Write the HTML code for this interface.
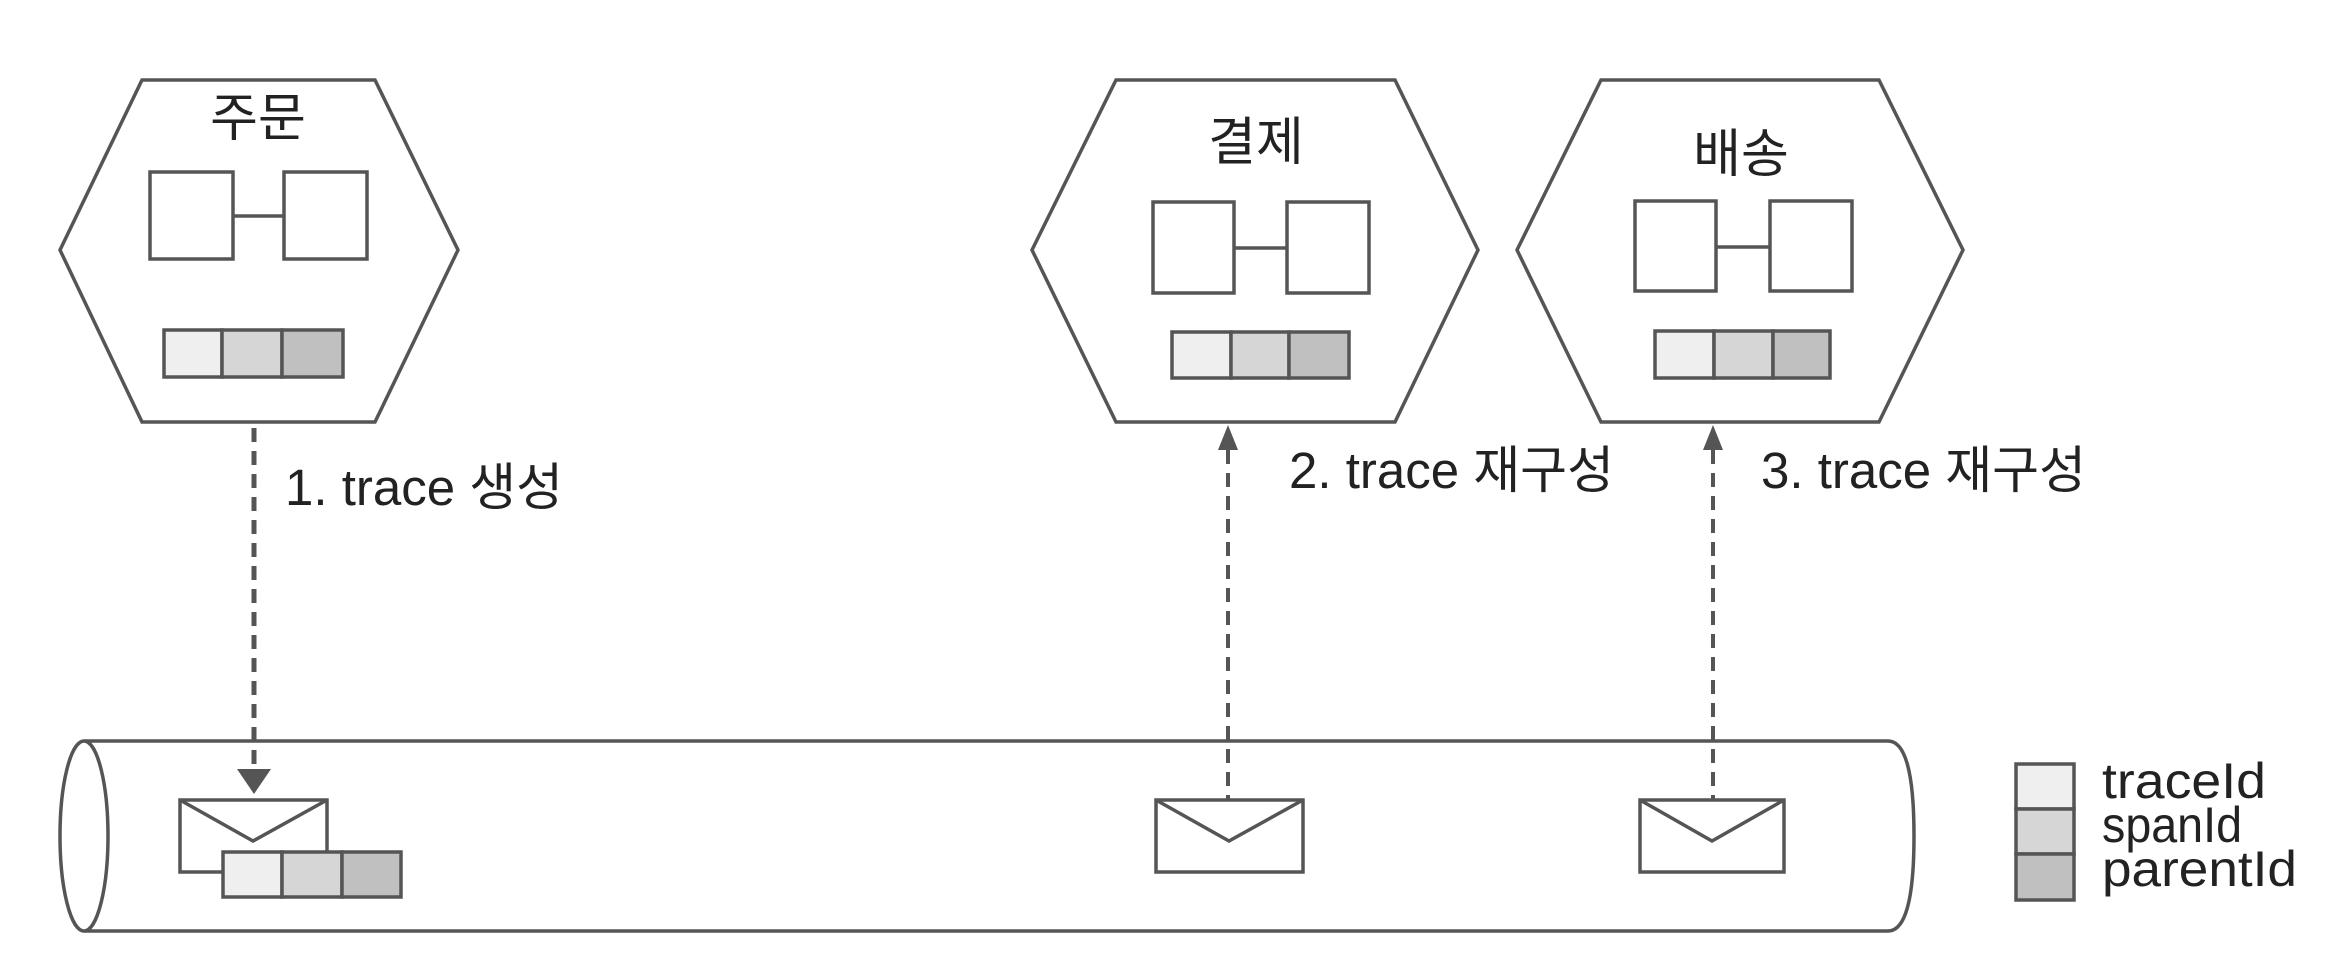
<!DOCTYPE html>
<html><head><meta charset="utf-8"><style>
html,body{margin:0;padding:0;background:#fff;}
svg{display:block;}
text{font-family:"Liberation Sans","Noto Sans CJK KR",sans-serif;fill:#222;}
</style></head><body>
<svg width="2352" height="968" viewBox="0 0 2352 968" xmlns="http://www.w3.org/2000/svg">
<g fill="none" stroke="#555" stroke-width="3.5">
<polygon points="60,250 142,80 375,80 458,250 375,422 142,422" fill="#fff"/>
<polygon points="1032,250 1116,80 1395,80 1478,250 1395,422 1116,422" fill="#fff"/>
<polygon points="1517,250 1601,80 1879,80 1963,250 1879,422 1601,422" fill="#fff"/>
<rect x="150" y="172" width="83" height="87"/><rect x="284" y="172" width="83" height="87"/><line x1="233" y1="216" x2="284" y2="216"/>
<rect x="1153" y="202" width="81" height="91"/><rect x="1287" y="202" width="82" height="91"/><line x1="1234" y1="248" x2="1287" y2="248"/>
<rect x="1635" y="201" width="81" height="90"/><rect x="1770" y="201" width="82" height="90"/><line x1="1716" y1="247" x2="1770" y2="247"/>
<path d="M84,741 L1888,741 Q1914,741 1914,836 Q1914,931 1888,931 L84,931" fill="#fff"/>
<ellipse cx="84" cy="836" rx="24" ry="95" fill="#fff"/>
<rect x="180" y="800" width="147" height="72" fill="#fff"/><polyline points="180,800 253,841 327,800"/>
<rect x="1156" y="800" width="147" height="72" fill="#fff"/><polyline points="1156,800 1229,841 1303,800"/>
<rect x="1640" y="800" width="144" height="72" fill="#fff"/><polyline points="1640,800 1712,841 1784,800"/>
</g>
<g stroke="#555" stroke-width="3.5">
<rect x="164" y="330" width="58" height="47" fill="#efefef"/><rect x="222" y="330" width="60" height="47" fill="#d6d6d6"/><rect x="282" y="330" width="61" height="47" fill="#c0c0c0"/>
<rect x="1172" y="332" width="59" height="46" fill="#efefef"/><rect x="1231" y="332" width="58" height="46" fill="#d6d6d6"/><rect x="1289" y="332" width="60" height="46" fill="#c0c0c0"/>
<rect x="1655" y="331" width="59" height="47" fill="#efefef"/><rect x="1714" y="331" width="59" height="47" fill="#d6d6d6"/><rect x="1773" y="331" width="57" height="47" fill="#c0c0c0"/>
<rect x="223" y="852" width="59" height="45" fill="#efefef"/><rect x="282" y="852" width="60" height="45" fill="#d6d6d6"/><rect x="342" y="852" width="59" height="45" fill="#c0c0c0"/>
<rect x="2016" y="764" width="58" height="45" fill="#efefef"/><rect x="2016" y="809" width="58" height="45" fill="#d6d6d6"/><rect x="2016" y="854" width="58" height="46" fill="#c0c0c0"/>
</g>
<g stroke="#555" stroke-dasharray="14,9">
<line x1="254" y1="428" x2="254" y2="772" stroke-width="5"/>
<line x1="1228" y1="450" x2="1228" y2="799" stroke-width="4"/>
<line x1="1713" y1="450" x2="1713" y2="799" stroke-width="4"/>
</g>
<g fill="#555">
<polygon points="237,769 271,769 254,794"/>
<polygon points="1218,450 1238,450 1228,425"/>
<polygon points="1703,450 1723,450 1713,425"/>
</g>
<g font-size="52" text-anchor="middle">
<text x="258" y="136">주문</text>
<text x="1256" y="160">결제</text>
<text x="1741" y="172">배송</text>
</g>
<g font-size="51">
<text x="285" y="505">1. trace 생성</text>
<text x="1289" y="488">2. trace 재구성</text>
<text x="1761" y="488">3. trace 재구성</text>
</g>
<g font-size="50">
<text x="2102" y="798" textLength="164" lengthAdjust="spacingAndGlyphs">traceId</text>
<text x="2102" y="842" textLength="140" lengthAdjust="spacingAndGlyphs">spanId</text>
<text x="2102" y="886" textLength="195" lengthAdjust="spacingAndGlyphs">parentId</text>
</g>
</svg>
</body></html>
